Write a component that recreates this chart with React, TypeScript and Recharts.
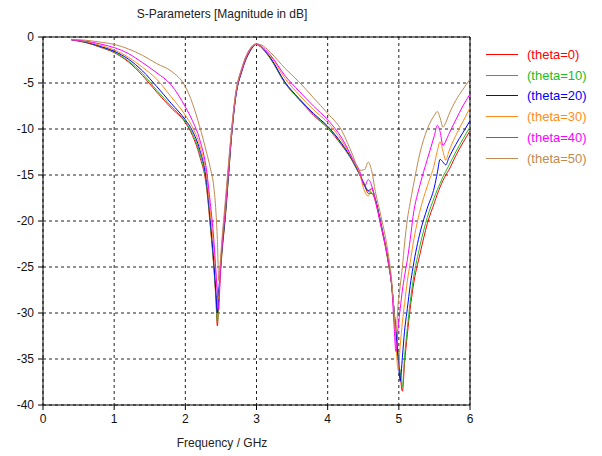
import React from "react";
import { LineChart, Line, XAxis, YAxis, CartesianGrid, ReferenceLine } from "recharts";

// frequency samples in GHz (denser around the two resonances)
const FREQ = [
  0.4, 0.6, 0.8, 1.0, 1.2, 1.4, 1.6, 1.8, 2.0,
  2.1, 2.2, 2.3, 2.35, 2.4, 2.43, 2.45, 2.47, 2.49, 2.52,
  2.56, 2.6, 2.65, 2.7, 2.8, 2.9, 3.0, 3.1, 3.2, 3.4,
  3.6, 3.8, 4.0, 4.2, 4.35, 4.45, 4.52, 4.57, 4.62, 4.67,
  4.75, 4.85, 4.9, 4.93, 4.96, 4.99, 5.02, 5.05, 5.08, 5.12,
  5.16, 5.2, 5.3, 5.4, 5.5, 5.54, 5.58, 5.62, 5.66, 5.7,
  5.8, 5.9, 6.0,
];

const THETA0 = [
  -0.3, -0.6, -1.1, -1.7, -2.7, -4.2, -6.0, -7.7, -9.3,
  -10.7, -12.9, -16.5, -20.5, -25, -28.5, -31.4, -28.5, -26, -23,
  -19.8, -15.8, -10.8, -7.0, -3.6, -1.7, -0.8, -1.4, -2.4, -5.0,
  -6.8, -8.5, -9.9, -11.8, -13.5, -15.0, -16.1, -17.0, -17.0, -17.8,
  -20.5, -24.5, -27, -29.5, -32, -34.5, -36.8, -38.5, -35.5, -32.3,
  -29.5, -27.2, -23.5, -20.3, -18.0, -17.1, -16.3, -15.6, -15.0, -14.5,
  -12.9, -11.5, -10.2,
];

const THETA10 = [
  -0.3, -0.6, -1.05, -1.65, -2.6, -4.0, -5.8, -7.5, -9.2,
  -10.5, -12.6, -16.2, -20.2, -24.8, -28.3, -31.0, -28.3, -25.8, -22.8,
  -19.6, -15.7, -10.7, -6.9, -3.5, -1.6, -0.8, -1.4, -2.4, -5.0,
  -6.8, -8.4, -9.8, -11.7, -13.5, -15.0, -16.0, -16.8, -16.9, -17.7,
  -20.4, -24.4, -27, -29.5, -32, -34.5, -36.5, -38.0, -34.8, -31.6,
  -28.8, -26.5, -22.6, -19.6, -17.4, -16.6, -15.9, -15.2, -14.6, -14.0,
  -12.5, -11.1, -9.8,
];

const THETA20 = [
  -0.3, -0.55, -1.0, -1.55, -2.4, -3.7, -5.4, -7.2, -9.0,
  -10.2, -12.2, -15.8, -19.8, -24.4, -27.8, -30.0, -27.6, -25.4, -22.6,
  -19.4, -15.5, -10.6, -6.9, -3.5, -1.6, -0.8, -1.35, -2.3, -4.9,
  -6.7, -8.3, -9.7, -11.6, -13.4, -14.9, -16.2, -16.7, -16.5, -17.6,
  -20.3, -24.3, -27, -29.5, -32.3, -35, -37.4, -34.8, -32, -29.5,
  -27, -25, -21.2, -18.6, -16.3, -14.8, -13.3, -13.6, -13.9, -13.2,
  -11.7, -10.4, -9.1,
];

const THETA30 = [
  -0.3, -0.5, -0.9, -1.4, -2.2, -3.3, -4.6, -6.5, -8.5,
  -9.8, -11.7, -15.2, -19.0, -23.0, -26.0, -27.5, -28.5, -25.5, -22.2,
  -19.0, -15.1, -10.4, -6.7, -3.4, -1.5, -0.8, -1.3, -2.1, -4.5,
  -6.3, -7.9, -9.3, -11.3, -13.3, -14.9, -16.8, -17.3, -16.4, -17.8,
  -20.5, -24.3, -27, -30, -33.5, -36.2, -33.5, -31, -29, -26.5,
  -24.5, -22.5, -18.8, -16.2, -13.8, -12.4, -11.4, -12.4, -13.4, -12.5,
  -10.7, -9.2, -7.7,
];

const THETA40 = [
  -0.3, -0.45, -0.75, -1.15, -1.8, -2.8, -3.9, -5.2, -7.6,
  -9.1, -11.1, -14.6, -18.0, -22.0, -25.5, -28.0, -29.6, -26.0, -22.0,
  -18.6, -14.8, -10.2, -6.6, -3.3, -1.4, -0.75, -1.2, -2.0, -4.2,
  -5.9, -7.5, -9.0, -11.0, -13.2, -14.6, -16.2, -15.5, -16.2, -17.8,
  -20.6, -24.2, -27, -31, -34.2, -31.5, -29.5, -27.5, -26.0, -24.2,
  -22.0, -19.5, -16.0, -13.3, -10.7, -9.6, -10.3, -11.8, -11.3, -10.6,
  -9.0, -7.5, -6.2,
];

const THETA50 = [
  -0.25, -0.35, -0.55, -0.8, -1.3, -2.0, -2.9, -3.7, -5.4,
  -7.2, -9.7, -12.6, -14.2, -16.3, -19.0, -22.0, -26.5, -24.5, -21.5,
  -18.0, -14.3, -10.0, -6.5, -3.2, -1.4, -0.75, -1.0, -1.7, -3.4,
  -4.9, -6.6, -8.3, -10.2, -12.8, -14.5, -14.4, -13.6, -14.6, -16.8,
  -19.5, -23.5, -26.5, -29.5, -32, -29, -27, -25, -22.5, -19.8,
  -18.0, -16.3, -12.5, -10.0, -8.5, -8.1, -8.8, -9.8, -9.3, -8.5,
  -6.9, -5.7, -4.6,
];

const SERIES = [
  { key: "t0", name: "(theta=0)", color: "#ff0000", values: THETA0 },
  { key: "t10", name: "(theta=10)", color: "#22bb22", values: THETA10 },
  { key: "t20", name: "(theta=20)", color: "#0000ff", values: THETA20 },
  { key: "t30", name: "(theta=30)", color: "#ff8c1a", values: THETA30 },
  { key: "t40", name: "(theta=40)", color: "#ff00ff", values: THETA40 },
  { key: "t50", name: "(theta=50)", color: "#c08a50", values: THETA50 },
];

const X_TICKS = [0, 1, 2, 3, 4, 5, 6];
const Y_TICKS = [0, -5, -10, -15, -20, -25, -30, -35, -40];

const rows = FREQ.map((f, i) => {
  const row: any = { f };
  SERIES.forEach((s) => (row[s.key] = s.values[i]));
  return row;
});

const FONT = "'Liberation Sans', Arial, sans-serif";

export default function App() {
  return (
    <div style={{ position: "absolute", left: 0, top: 0, width: 602, height: 456, background: "#fff", fontFamily: FONT }}>
      <div style={{ position: "absolute", left: 0, width: 444, top: 7, textAlign: "center", fontSize: 12, color: "#222" }}>
        S-Parameters [Magnitude in dB]
      </div>
      <LineChart width={602} height={456} data={rows} margin={{ top: 37, right: 132, bottom: 21, left: 0 }}>
        <CartesianGrid stroke="#222" strokeDasharray="3 3" />
        <XAxis
          dataKey="f"
          type="number"
          domain={[0, 6]}
          ticks={X_TICKS}
          height={30}
          tickSize={5}
          tickMargin={4}
          stroke="#000"
          tick={{ fill: "#111", fontSize: 12, fontFamily: FONT }}
        />
        <YAxis
          type="number"
          domain={[-40, 0]}
          ticks={Y_TICKS}
          width={43}
          tickSize={5}
          tickMargin={4}
          stroke="#000"
          tick={{ fill: "#111", fontSize: 12, fontFamily: FONT }}
        />
        <ReferenceLine y={0} stroke="#000" />
        <ReferenceLine x={6} stroke="#000" />
        {SERIES.map((s) => (
          <Line
            key={s.key}
            dataKey={s.key}
            type="monotone"
            stroke={s.color}
            strokeWidth={1}
            dot={false}
            isAnimationActive={false}
          />
        ))}
      </LineChart>
      <div style={{ position: "absolute", left: 0, width: 444, top: 436, textAlign: "center", fontSize: 12, color: "#222" }}>
        Frequency / GHz
      </div>
      <div style={{ position: "absolute", left: 486, top: 44 }}>
        {SERIES.map((s) => (
          <div key={s.key} style={{ display: "flex", alignItems: "center", height: 20.8 }}>
            <div style={{ width: 32, height: 1, background: s.color, marginRight: 9 }} />
            <span style={{ color: s.color, fontSize: 13 }}>{s.name}</span>
          </div>
        ))}
      </div>
    </div>
  );
}
